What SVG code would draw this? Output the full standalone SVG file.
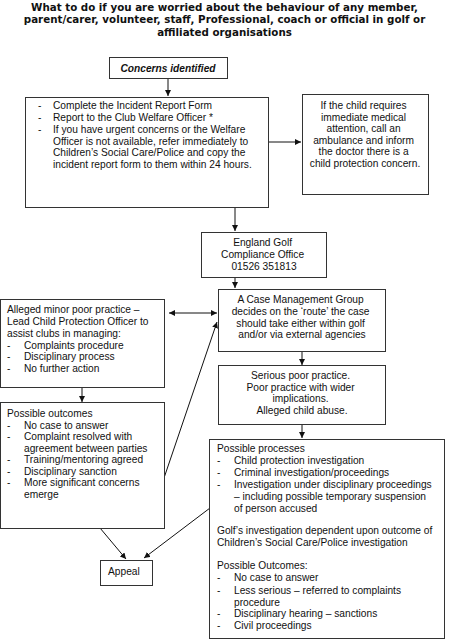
<svg xmlns="http://www.w3.org/2000/svg" width="449" height="640" viewBox="0 0 449 640">
<defs>
<marker id="ah" viewBox="0 0 8 8" refX="8" refY="4" markerWidth="6" markerHeight="6" orient="auto-start-reverse" markerUnits="userSpaceOnUse">
<path d="M0,0 L8,4 L0,8 z" fill="#111"/>
</marker>
<style>
.box{fill:#fff;stroke:#333;stroke-width:1}
.t{font-family:"Liberation Sans",Arial,sans-serif;font-size:10.2px;fill:#111}
.c{text-anchor:middle}
.title{font-family:"DejaVu Sans",Verdana,sans-serif;font-weight:bold;font-size:10.3px;fill:#111;text-anchor:middle}
.ln{stroke:#111;stroke-width:1;fill:none;marker-end:url(#ah)}
</style>
</defs>
<rect width="449" height="640" fill="#fff"/>
<g id="title">
<text class="title" x="224.5" y="10.5">What to do if you are worried about the behaviour of any member,</text>
<text class="title" x="224.5" y="23">parent/carer, volunteer, staff, Professional, coach or official in golf or</text>
<text class="title" x="224.5" y="35.5">affiliated organisations</text>
</g>
<g id="connectors">
<line class="ln" x1="168" y1="78" x2="168" y2="96"/>
<line class="ln" x1="268" y1="142" x2="301" y2="142"/>
<line class="ln" x1="235" y1="207" x2="235" y2="231"/>
<line class="ln" x1="235" y1="277" x2="235" y2="288"/>
<line class="ln" x1="169" y1="313" x2="217" y2="313" style="marker-start:url(#ah)"/>
<line class="ln" x1="82" y1="387" x2="82" y2="402"/>
<line class="ln" x1="164" y1="478" x2="217" y2="322"/>
<line class="ln" x1="302" y1="351" x2="302" y2="365"/>
<line class="ln" x1="302" y1="424" x2="302" y2="438"/>
<line class="ln" x1="100" y1="528" x2="126" y2="559"/>
<line class="ln" x1="210" y1="508" x2="144" y2="558"/>
</g>
<g id="concerns">
<rect class="box" x="109.5" y="57.5" width="118" height="21"/>
<text class="t c" x="168" y="72" font-weight="bold" font-style="italic">Concerns identified</text>
</g>
<g id="incident">
<rect class="box" x="25.5" y="97.5" width="243" height="110"/>
<text class="t"><tspan x="38" y="109">-</tspan><tspan x="53" y="109">Complete the Incident Report Form</tspan>
<tspan x="38" y="121">-</tspan><tspan x="53" y="121">Report to the Club Welfare Officer *</tspan>
<tspan x="38" y="133">-</tspan><tspan x="53" y="133">If you have urgent concerns or the Welfare</tspan>
<tspan x="53" y="144.5">Officer is not available, refer immediately to</tspan>
<tspan x="53" y="156">Children’s Social Care/Police and copy the</tspan>
<tspan x="53" y="167.5">incident report form to them within 24 hours.</tspan></text>
</g>
<g id="medical">
<rect class="box" x="302.5" y="94.5" width="126" height="100"/>
<text class="t c"><tspan x="365" y="109">If the child requires</tspan>
<tspan x="365" y="120.5">immediate medical</tspan>
<tspan x="365" y="132">attention, call an</tspan>
<tspan x="365" y="143.5">ambulance and inform</tspan>
<tspan x="365" y="155">the doctor there is a</tspan>
<tspan x="365" y="166.5">child protection concern.</tspan></text>
</g>
<g id="england">
<rect class="box" x="201.5" y="232.5" width="125" height="45"/>
<text class="t c"><tspan x="264" y="246">England Golf</tspan>
<tspan x="264" y="258">Compliance Office</tspan>
<tspan x="264" y="269.5">01526 351813</tspan></text>
</g>
<g id="cmg">
<rect class="box" x="218.5" y="289.5" width="167" height="62"/>
<text class="t c"><tspan x="302" y="303">A Case Management Group</tspan>
<tspan x="302" y="315">decides on the ‘route’ the case</tspan>
<tspan x="302" y="326.5">should take either within golf</tspan>
<tspan x="302" y="338">and/or via external agencies</tspan></text>
</g>
<g id="minor">
<rect class="box" x="0.5" y="299.5" width="164" height="88"/>
<text class="t"><tspan x="7" y="313">Alleged minor poor practice –</tspan>
<tspan x="7" y="325">Lead Child Protection Officer to</tspan>
<tspan x="7" y="337">assist clubs in managing:</tspan>
<tspan x="7" y="348.5">-</tspan><tspan x="24" y="348.5">Complaints procedure</tspan>
<tspan x="7" y="360">-</tspan><tspan x="24" y="360">Disciplinary process</tspan>
<tspan x="7" y="371.5">-</tspan><tspan x="24" y="371.5">No further action</tspan></text>
</g>
<g id="outcomes">
<rect class="box" x="0.5" y="402.5" width="164" height="126"/>
<text class="t"><tspan x="7" y="417">Possible outcomes</tspan>
<tspan x="7" y="428.5">-</tspan><tspan x="24" y="428.5">No case to answer</tspan>
<tspan x="7" y="440">-</tspan><tspan x="24" y="440">Complaint resolved with</tspan>
<tspan x="24" y="451.5">agreement between parties</tspan>
<tspan x="7" y="463">-</tspan><tspan x="24" y="463">Training/mentoring agreed</tspan>
<tspan x="7" y="474.5">-</tspan><tspan x="24" y="474.5">Disciplinary sanction</tspan>
<tspan x="7" y="486">-</tspan><tspan x="24" y="486">More significant concerns</tspan>
<tspan x="24" y="497.5">emerge</tspan></text>
</g>
<g id="serious">
<rect class="box" x="218.5" y="365.5" width="167" height="59"/>
<text class="t c"><tspan x="302" y="379">Serious poor practice.</tspan>
<tspan x="302" y="391">Poor practice with wider</tspan>
<tspan x="302" y="402">implications.</tspan>
<tspan x="302" y="414">Alleged child abuse.</tspan></text>
</g>
<g id="processes">
<rect class="box" x="209.5" y="439.5" width="235" height="199"/>
<text class="t"><tspan x="217" y="452">Possible processes</tspan>
<tspan x="217" y="464">-</tspan><tspan x="234" y="464">Child protection investigation</tspan>
<tspan x="217" y="476">-</tspan><tspan x="234" y="476">Criminal investigation/proceedings</tspan>
<tspan x="217" y="488">-</tspan><tspan x="234" y="488">Investigation under disciplinary proceedings</tspan>
<tspan x="234" y="500">– including possible temporary suspension</tspan>
<tspan x="234" y="511.5">of person accused</tspan>
<tspan x="217" y="534">Golf’s investigation dependent upon outcome of</tspan>
<tspan x="217" y="546">Children’s Social Care/Police investigation</tspan>
<tspan x="217" y="569">Possible Outcomes:</tspan>
<tspan x="217" y="581">-</tspan><tspan x="234" y="581">No case to answer</tspan>
<tspan x="217" y="594">-</tspan><tspan x="234" y="594">Less serious – referred to complaints</tspan>
<tspan x="234" y="605.5">procedure</tspan>
<tspan x="217" y="617">-</tspan><tspan x="234" y="617">Disciplinary hearing – sanctions</tspan>
<tspan x="217" y="629">-</tspan><tspan x="234" y="629">Civil proceedings</tspan></text>
</g>
<g id="appeal">
<rect class="box" x="100.5" y="560.5" width="52" height="25"/>
<text class="t" x="108" y="575">Appeal</text>
</g>
</svg>
